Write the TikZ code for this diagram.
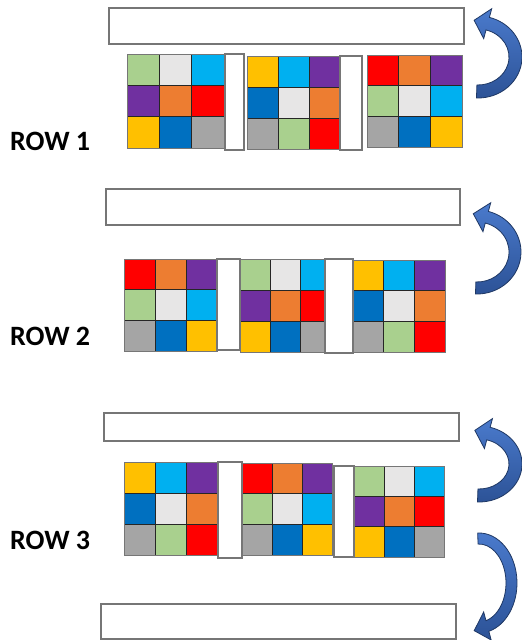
\documentclass[tikz,border=0pt]{standalone}
\usepackage{fontspec}
\setmainfont{Carlito}
\usetikzlibrary{calc}
\definecolor{cgreen}{RGB}{169,208,142}
\definecolor{clgray}{RGB}{231,230,230}
\definecolor{ccyan}{RGB}{0,176,240}
\definecolor{cpurple}{RGB}{112,48,160}
\definecolor{corange}{RGB}{237,125,49}
\definecolor{cred}{RGB}{255,0,0}
\definecolor{cyellow}{RGB}{255,192,0}
\definecolor{cblue}{RGB}{0,112,192}
\definecolor{cgray}{RGB}{165,165,165}
\definecolor{edgegray}{RGB}{118,118,118}
\definecolor{arrlight}{RGB}{74,122,204}
\definecolor{arrdark}{RGB}{44,82,150}
\definecolor{arredge}{RGB}{31,56,100}
\tikzset{
 cell/.style={draw=black!85, line width=0.7pt},
 gridframe/.style={draw=edgegray, line width=1pt},
 topbox/.style={draw=edgegray, fill=white, line width=1.4pt, inner sep=0pt, outer sep=0pt, anchor=north west},
 sepbar/.style={draw=edgegray, fill=white, line width=1.4pt, inner sep=0pt, outer sep=0pt, anchor=north west},
 rowlabel/.style={font=\bfseries\fontsize{28}{31}\selectfont, anchor=base west, inner sep=0pt},
 blockarrow/.style={draw=arredge, line width=0.8pt, top color=arrlight, bottom color=arrdark},
}
% 3x3 colour grid: x0,y0,x1,y1,colours
\newcommand\cgrid[5]{%
 \foreach \cc [count=\ii from 0] in {#5}{%
   \pgfmathtruncatemacro\gc{mod(\ii,3)}%
   \pgfmathtruncatemacro\gr{floor(\ii/3)}%
   \pgfmathsetmacro\gw{(#3-#1)/3}%
   \pgfmathsetmacro\gh{(#4-#2)/3}%
   \draw[cell, fill=\cc] ({#1+\gc*\gw},{#2+\gr*\gh}) rectangle ++(\gw,\gh);
 }%
 \draw[gridframe] (#1,#2) rectangle (#3,#4);
}
% curved block arrow in local coordinates, centre at origin: Rx, Ry, band width
\newcommand\curvedarrow[3]{%
 \pgfmathsetmacro\arRa{#1}\pgfmathsetmacro\arRb{#2}%
 \pgfmathsetmacro\arra{#1-#3}\pgfmathsetmacro\arrb{#2-#3}%
 \pgfmathsetmacro\arDx{#1*sin(-75)}\pgfmathsetmacro\arDy{-#2*cos(-75)}%
 \pgfmathsetmacro\arDn{sqrt(\arDx*\arDx+\arDy*\arDy)}%
 \pgfmathsetmacro\arTx{(#1-#3/2)*cos(-75)+14*\arDx/\arDn}%
 \pgfmathsetmacro\arTy{(#2-#3/2)*sin(-75)+14*\arDy/\arDn}%
 \pgfmathsetmacro\arSx{#1*cos(92)}\pgfmathsetmacro\arSy{#2*sin(92)}%
 \pgfmathsetmacro\arOx{(#1+9)*cos(-75)}\pgfmathsetmacro\arOy{(#2+9)*sin(-75)}%
 \pgfmathsetmacro\arIx{(#1-#3-9)*cos(-75)}\pgfmathsetmacro\arIy{(#2-#3-9)*sin(-75)}%
 \pgfmathsetmacro\arJx{(#1-#3)*cos(-75)}\pgfmathsetmacro\arJy{(#2-#3)*sin(-75)}%
 \draw[blockarrow] (\arSx,\arSy) arc[start angle=92, end angle=-75, x radius=\arRa, y radius=\arRb]
   -- (\arOx,\arOy) -- (\arTx,\arTy) -- (\arIx,\arIy) -- (\arJx,\arJy)
   arc[start angle=-75, end angle=92, x radius=\arra, y radius=\arrb] -- cycle;
}
\begin{document}
\begin{tikzpicture}[x=1pt,y=-1pt]
\useasboundingbox (0,0) rectangle (522,640);
% ---------- ROW 1 ----------
\node[topbox, minimum width=355pt, minimum height=36pt] (t1) at (109,8) {};
\cgrid{127}{54}{224}{148}{cgreen,clgray,ccyan,cpurple,corange,cred,cyellow,cblue,cgray}
\cgrid{247}{56}{340}{149}{cyellow,ccyan,cpurple,cblue,clgray,corange,cgray,cgreen,cred}
\cgrid{367}{55}{462}{147}{cred,corange,cpurple,cgreen,clgray,ccyan,cgray,cblue,cyellow}
\node[sepbar, minimum width=19pt, minimum height=96pt] (b11) at (225,54) {};
\node[sepbar, minimum width=22pt, minimum height=94pt] (b12) at (340,56) {};
\node[rowlabel] (lab1) at (10,150) {ROW 1};
\begin{scope}[shift={(478,57)}]
 \curvedarrow{44}{41}{13}
\end{scope}
% ---------- ROW 2 ----------
\node[topbox, minimum width=354pt, minimum height=36pt] (t2) at (106,189) {};
\cgrid{124}{259}{217}{351}{cred,corange,cpurple,cgreen,clgray,ccyan,cgray,cblue,cyellow}
\cgrid{240}{259}{331}{352}{cgreen,clgray,ccyan,cpurple,corange,cred,cyellow,cblue,cgray}
\cgrid{353}{260}{445}{352}{cyellow,ccyan,cpurple,cblue,clgray,corange,cgray,cgreen,cred}
\node[sepbar, minimum width=23pt, minimum height=91pt] (b21) at (217,259) {};
\node[sepbar, minimum width=28pt, minimum height=94pt] (b22) at (325,259) {};
\node[rowlabel] (lab2) at (10,345) {ROW 2};
\begin{scope}[shift={(477,252)}]
 \curvedarrow{44}{42}{12}
\end{scope}
% ---------- ROW 3 ----------
\node[topbox, minimum width=355pt, minimum height=28pt] (t3) at (104,413) {};
\cgrid{124}{462}{218}{555}{cyellow,ccyan,cpurple,cblue,clgray,corange,cgray,cgreen,cred}
\cgrid{242}{463}{332}{555}{cred,corange,cpurple,cgreen,clgray,ccyan,cgray,cblue,cyellow}
\cgrid{354}{466}{444}{557}{cgreen,clgray,ccyan,cpurple,corange,cred,cyellow,cblue,cgray}
\node[sepbar, minimum width=24pt, minimum height=96pt] (b31) at (218,462) {};
\node[sepbar, minimum width=20pt, minimum height=91pt] (b32) at (334,466) {};
\node[rowlabel] (lab3) at (10,549) {ROW 3};
\begin{scope}[shift={(479,464)}]
 \curvedarrow{43}{38}{13}
\end{scope}
\begin{scope}[shift={(479,583)}, yscale=-1]
 \curvedarrow{38}{50}{11}
\end{scope}
% ---------- bottom box ----------
\node[topbox, minimum width=355pt, minimum height=35pt] (t4) at (101,604) {};
\end{tikzpicture}
\end{document}
